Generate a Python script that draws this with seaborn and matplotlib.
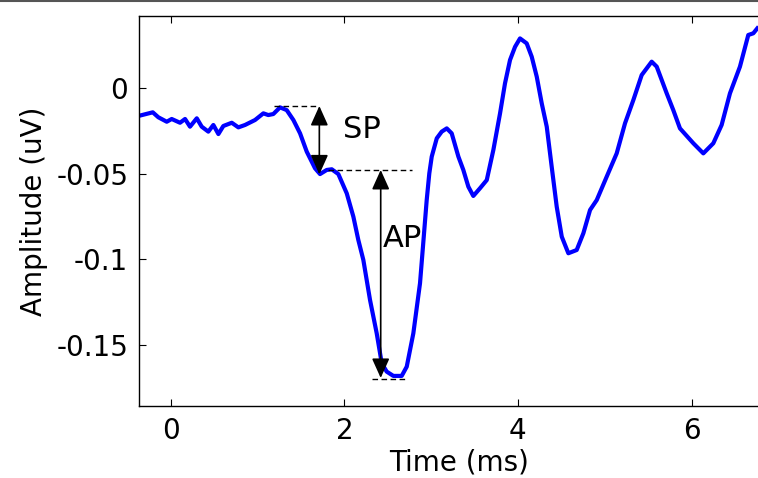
import matplotlib
matplotlib.use("Agg")
import matplotlib.pyplot as plt
import seaborn as sns
import pandas as pd
from matplotlib.lines import Line2D

# waveform (time in ms, amplitude in uV)
time_ms = [-0.362, -0.207, -0.143, -0.046, 0.011, 0.107, 0.165, 0.222, 0.300, 0.357,
           0.433, 0.491, 0.549, 0.606, 0.703, 0.779, 0.856, 0.971, 1.067, 1.124,
           1.182, 1.259, 1.336, 1.413, 1.490, 1.567, 1.662, 1.720, 1.797, 1.855,
           1.931, 2.028, 2.104, 2.161, 2.219, 2.296, 2.373, 2.431, 2.488, 2.565,
           2.661, 2.719, 2.795, 2.872, 2.915, 2.949, 2.979, 3.007, 3.065, 3.122,
           3.180, 3.237, 3.314, 3.371, 3.429, 3.486, 3.563, 3.641, 3.717, 3.794,
           3.851, 3.909, 3.967, 4.024, 4.101, 4.159, 4.217, 4.274, 4.332, 4.389,
           4.447, 4.505, 4.581, 4.677, 4.754, 4.831, 4.908, 5.023, 5.138, 5.234,
           5.330, 5.426, 5.541, 5.599, 5.714, 5.790, 5.867, 6.021, 6.136, 6.251,
           6.347, 6.443, 6.558, 6.654, 6.712, 6.758]
amplitude_uv = [-0.0162, -0.0142, -0.0171, -0.0197, -0.0181, -0.0203, -0.0181, -0.0226, -0.0177, -0.0226,
                -0.0255, -0.0216, -0.0269, -0.0222, -0.0203, -0.0230, -0.0216, -0.0187, -0.0148, -0.0158,
                -0.0152, -0.0113, -0.0129, -0.0187, -0.0265, -0.0372, -0.0469, -0.0503, -0.0479, -0.0475,
                -0.0503, -0.0616, -0.0752, -0.0888, -0.1005, -0.1239, -0.1434, -0.1609, -0.1658, -0.1683,
                -0.1683, -0.1629, -0.1434, -0.1141, -0.0870, -0.0655, -0.0499, -0.0401, -0.0294, -0.0255,
                -0.0236, -0.0265, -0.0401, -0.0479, -0.0577, -0.0631, -0.0586, -0.0538, -0.0362, -0.0148,
                0.0027, 0.0164, 0.0241, 0.0290, 0.0261, 0.0183, 0.0066, -0.0089, -0.0226, -0.0460,
                -0.0694, -0.0869, -0.0966, -0.0947, -0.0849, -0.0713, -0.0655, -0.0518, -0.0382, -0.0206,
                -0.0070, 0.0076, 0.0154, 0.0125, -0.0031, -0.0129, -0.0236, -0.0323, -0.0382, -0.0323,
                -0.0216, -0.0031, 0.0125, 0.0310, 0.0320, 0.0349]

# SP / AP measurement markers
sp_x, sp_top, sp_bottom = 1.712, -0.0105, -0.0505
ap_x, ap_top, ap_bottom = 2.419, -0.0479, -0.1695
sp_dash = ([1.19, 1.712], [sp_top, sp_top])
mid_dash = ([1.816, 2.776], [ap_top, ap_top])
low_dash = ([2.316, 2.719], [-0.1703, -0.1703])

plt.rcParams["axes.unicode_minus"] = False
plt.rcParams["font.family"] = "DejaVu Sans"

fig = plt.figure(figsize=(7.58, 4.78), dpi=100)
ax = fig.add_axes([0.1838, 0.1506, 0.843, 0.8159])

df = pd.DataFrame({"t": time_ms, "amp": amplitude_uv})
sns.lineplot(data=df, x="t", y="amp", color="#0000ff", linewidth=3, sort=False, ax=ax)

for xs, ys in (sp_dash, mid_dash, low_dash):
    ax.plot(xs, ys, "k--", linewidth=1, dashes=(4, 2.5))

arrow = dict(arrowstyle="<|-|>,head_length=0.6,head_width=0.27", color="black",
             linewidth=1.2, shrinkA=0, shrinkB=0, mutation_scale=20)
ax.annotate("", xy=(sp_x, sp_bottom), xytext=(sp_x, sp_top), arrowprops=arrow)
ax.annotate("", xy=(ap_x, ap_bottom), xytext=(ap_x, ap_top), arrowprops=arrow)
ax.text(1.99, -0.024, "SP", fontsize=22, ha="left", va="center")
ax.text(2.445, -0.088, "AP", fontsize=22, ha="left", va="center")

ax.set_xlim(-0.362, 7.0)
ax.set_ylim(-0.1859, 0.0421)
ax.set_xticks([0, 2, 4, 6])
ax.set_yticks([-0.15, -0.1, -0.05, 0])
ax.set_yticklabels(["-0.15", "-0.1", "-0.05", "0"])
ax.tick_params(direction="in", top=True, right=True, length=5, width=0.8,
               labelsize=20, pad=8)
for s in ax.spines.values():
    s.set_linewidth(1)
ax.set_xlabel("Time (ms)", fontsize=20, labelpad=2.5)
ax.set_ylabel("Amplitude (uV)", fontsize=20, labelpad=6)

# thin gray rule along the top edge of the image
fig.add_artist(Line2D([0, 1], [0.998, 0.998], color="#555555", linewidth=1.5,
                      transform=fig.transFigure))

fig.savefig("out.png", dpi=100)
